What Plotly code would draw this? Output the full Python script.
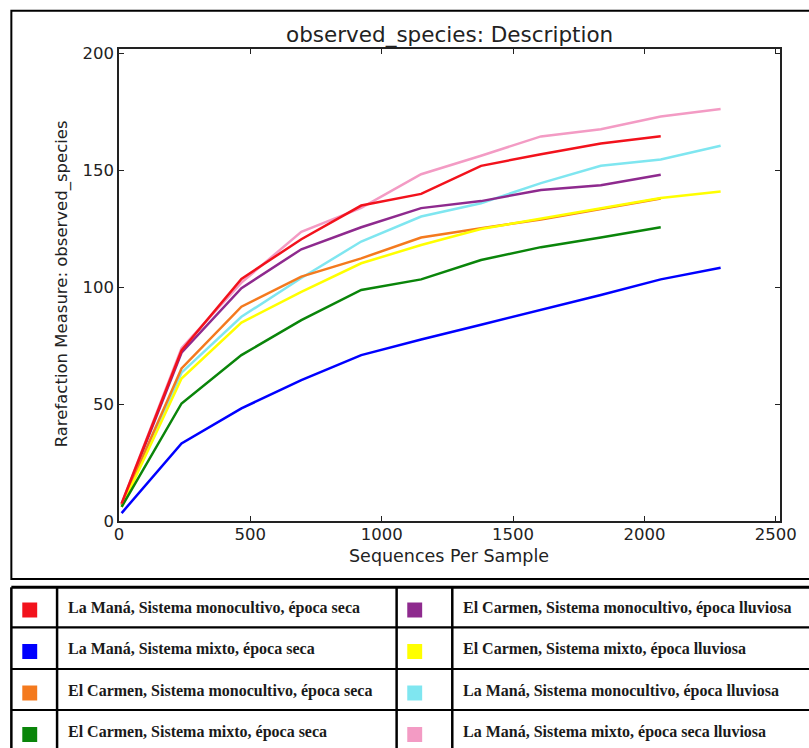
import plotly.graph_objects as go

# ---------------- data ----------------
depths = [10, 238, 466, 694, 922, 1150, 1378, 1606, 1834, 2062, 2290]

labels = [
    "La Maná, Sistema monocultivo, época seca",
    "La Maná, Sistema mixto, época seca",
    "El Carmen, Sistema monocultivo, época seca",
    "El Carmen, Sistema mixto, época seca",
    "El Carmen, Sistema monocultivo, época lluviosa",
    "El Carmen, Sistema mixto, época lluviosa",
    "La Maná, Sistema monocultivo, época lluviosa",
    "La Maná, Sistema mixto, época seca lluviosa",
]
colors = ["#f2121c", "#0000ff", "#f47a1e", "#0a850a",
          "#8e2a8e", "#ffff00", "#7fe6f0", "#f39bc4"]

red_vals = [7.5, 73, 103.6, 120.6, 135, 140, 152, 157, 161.6, 164.7]
blue_vals = [3.4, 33.2, 48.2, 60.3, 71, 77.7, 84, 90.3, 96.7, 103.4, 108.4]
orange_vals = [7, 65.3, 91.7, 104.6, 112.4, 121.3, 125.3, 129, 133.5, 138]
green_vals = [6, 50.3, 71, 86, 98.9, 103.4, 111.7, 117.2, 121.3, 125.7]
purple_vals = [7, 72, 99.6, 116.3, 125.7, 133.9, 136.9, 141.7, 143.7, 148.2]
yellow_vals = [6, 61, 84.9, 98.1, 110.3, 118.1, 125, 129.3, 133.9, 138.2, 141]
cyan_vals = [6.5, 63.5, 87.4, 104, 119.6, 130.3, 136, 144.6, 152, 154.7, 160.6]
pink_vals = [7.5, 74, 102, 123.8, 134, 148.4, 156.3, 164.6, 167.7, 173.1, 176.3]

series = [red_vals, blue_vals, orange_vals, green_vals,
          purple_vals, yellow_vals, cyan_vals, pink_vals]
draw_order = [7, 6, 4, 2, 5, 3, 1, 0]

x_ticks = [0, 500, 1000, 1500, 2000, 2500]
y_ticks = [0, 50, 100, 150, 200]

# ---------------- layout geometry ----------------
W, H = 809, 748
L, R, T, B = 119, 25, 49, 227
PW, PH = W - L - R, H - T - B


def px(x):
    return (x - L) / PW


def py(y):
    return (H - B - y) / PH


fig = go.Figure()
for i in draw_order:
    vals = series[i]
    fig.add_trace(go.Scatter(
        x=depths[:len(vals)], y=vals, mode="lines", name=labels[i],
        line=dict(color=colors[i], width=2.5), showlegend=False))

axis_common = dict(
    showgrid=False, zeroline=False, showline=True, linecolor="#222",
    linewidth=1.5, mirror="allticks", ticks="inside", ticklen=5,
    tickwidth=1.2, tickcolor="#222",
    tickfont=dict(family="DejaVu Sans", size=16.5, color="#222"),
)
fig.update_xaxes(range=[0, 2516], tickvals=x_ticks, ticklabelstandoff=-3,
                 **axis_common)
fig.update_yaxes(range=[0, 202], tickvals=y_ticks, **axis_common)

shapes = []
line_black = dict(color="#000", width=2)
# outer chart frame
shapes.append(dict(type="rect", xref="paper", yref="paper",
                   x0=px(10.7), x1=px(830), y0=py(10.7), y1=py(579),
                   line=line_black, layer="above"))
# table
tbl_top, tbl_bot = 587.3, 760
shapes.append(dict(type="line", xref="paper", yref="paper",
                   x0=px(10.7), x1=px(830), y0=py(tbl_top), y1=py(tbl_top),
                   line=dict(color="#000", width=3)))
for yy in [627.3, 669, 710]:
    shapes.append(dict(type="line", xref="paper", yref="paper",
                       x0=px(10.7), x1=px(830), y0=py(yy), y1=py(yy),
                       line=dict(color="#000", width=2.2)))
for xx in [10.7, 56.7, 398.3, 454.3]:
    shapes.append(dict(type="line", xref="paper", yref="paper",
                       x0=px(xx), x1=px(xx), y0=py(tbl_top), y1=py(tbl_bot),
                       line=dict(color="#000", width=2.5)))

row_centers = [610, 651.5, 693, 734.5]
text_rows = [607.5, 649, 690.5, 731.5]
annotations = []
for k in range(8):
    col = k // 4
    row = k % 4
    sx = 29.2 if col == 0 else 416.5
    sy = row_centers[row]
    shapes.append(dict(type="rect", xref="paper", yref="paper",
                       x0=px(sx - 7.5), x1=px(sx + 7.5),
                       y0=py(sy - 7.5), y1=py(sy + 7.5),
                       fillcolor=colors[k], line=dict(width=0)))
    tx = 66 if col == 0 else 463.5
    annotations.append(dict(
        xref="paper", yref="paper", x=px(tx), y=py(text_rows[row]),
        xanchor="left", yanchor="middle", showarrow=False, text=labels[k],
        font=dict(family="Liberation Serif", size=16, weight="bold",
                  color="#1a1a1a")))

# titles
annotations.append(dict(xref="paper", yref="paper", x=px(451), y=py(35),
                        xanchor="center", yanchor="middle", showarrow=False,
                        text="observed_species: Description",
                        font=dict(family="DejaVu Sans", size=21.5, color="#222")))
annotations.append(dict(xref="paper", yref="paper", x=px(451), y=py(556),
                        xanchor="center", yanchor="middle", showarrow=False,
                        text="Sequences Per Sample",
                        font=dict(family="DejaVu Sans", size=17.5, color="#222")))
annotations.append(dict(xref="paper", yref="paper", x=px(62), y=py(284),
                        xanchor="center", yanchor="middle", showarrow=False,
                        textangle=-90,
                        text="Rarefaction Measure: observed_species",
                        font=dict(family="DejaVu Sans", size=16.5, color="#222")))

fig.update_layout(
    width=W, height=H, autosize=False,
    margin=dict(l=L, r=R, t=T, b=B, pad=0),
    paper_bgcolor="white", plot_bgcolor="white",
    shapes=shapes, annotations=annotations, showlegend=False,
)

fig.write_html("out.html")
